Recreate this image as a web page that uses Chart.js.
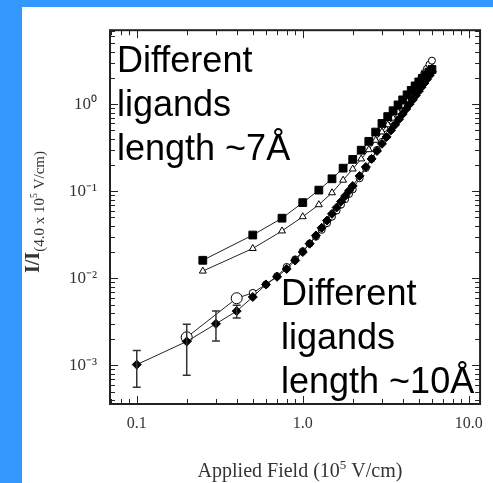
<!DOCTYPE html>
<html>
<head>
<meta charset="utf-8">
<script src="https://cdn.jsdelivr.net/npm/chart.js@4.4.1/dist/chart.umd.min.js"></script>
<style>
  html, body { margin: 0; padding: 0; background: #3399ff; width: 493px; height: 483px; overflow: hidden; }
  #panel { position: absolute; left: 22px; top: 7px; width: 471px; height: 476px; background: #fff; }
  canvas { display: block; }
</style>
</head>
<body>
<div id="panel"><canvas id="fieldChart" width="471" height="476"></canvas></div>
<script>
// I/I(4.0e5 V/cm) vs applied field, log-log

// ~7Å ligands: filled squares and open triangles
const squareX = [0.25, 0.5, 0.75, 1.0, 1.25, 1.5, 1.75, 2.0, 2.25, 2.5, 2.75, 3.0, 3.25, 3.5, 3.75, 4.0, 4.25, 4.5, 4.75, 5.0, 5.25, 5.5, 5.75, 6.0];
const squareY = [0.0161, 0.0314, 0.049, 0.074, 0.103, 0.139, 0.184, 0.232, 0.296, 0.374, 0.478, 0.60, 0.72, 0.84, 0.98, 1.12, 1.28, 1.44, 1.62, 1.80, 1.98, 2.15, 2.33, 2.5];
const triangleY = [0.0121, 0.022, 0.035, 0.051, 0.070, 0.096, 0.134, 0.18, 0.235, 0.30, 0.385, 0.48, 0.58, 0.69, 0.81, 0.95, 1.10, 1.26, 1.44, 1.63, 1.84, 2.06, 2.30, 2.6];

// ~10Å ligands: open circles and filled diamonds
const circleX = [0.2, 0.4, 0.5, 0.6, 0.7, 0.8, 0.9, 1.0, 1.1, 1.2, 1.3, 1.4, 1.5, 1.6, 1.7, 1.8, 1.9, 2.0, 2.2, 2.4, 2.6, 2.8, 3.0, 3.2, 3.4, 3.6, 3.8, 4.0, 4.2, 4.4, 4.6, 4.8, 5.0, 5.2, 5.4, 5.6, 5.8, 6.0];
const circleY = [0.0021, 0.0059, 0.0068, 0.0085, 0.0106, 0.0135, 0.0165, 0.0205, 0.025, 0.030, 0.036, 0.043, 0.051, 0.060, 0.070, 0.081, 0.093, 0.105, 0.141, 0.185, 0.236, 0.298, 0.369, 0.45, 0.544, 0.65, 0.767, 0.90, 1.04, 1.21, 1.39, 1.58, 1.80, 2.03, 2.28, 2.55, 2.85, 3.16];
const diamondX = [0.1, 0.2, 0.3, 0.4, 0.5, 0.6, 0.7, 0.8, 0.9, 1.0, 1.1, 1.2, 1.3, 1.4, 1.5, 1.6, 1.7, 1.8, 1.9, 2.0, 2.2, 2.4, 2.6, 2.8, 3.0, 3.2, 3.4, 3.6, 3.8, 4.0, 4.2, 4.4, 4.6, 4.8, 5.0, 5.2, 5.4, 5.6, 5.8, 6.0];
const diamondY = [0.00102, 0.00188, 0.0030, 0.0042, 0.0061, 0.0085, 0.0104, 0.0128, 0.016, 0.020, 0.025, 0.031, 0.038, 0.046, 0.055, 0.065, 0.076, 0.088, 0.101, 0.115, 0.15, 0.19, 0.235, 0.29, 0.35, 0.42, 0.50, 0.58, 0.67, 0.77, 0.88, 1.0, 1.12, 1.26, 1.41, 1.57, 1.74, 1.93, 2.13, 2.35];

// error bars on the first diamonds
const errX = [0.1, 0.2, 0.3, 0.4];
const errLow = [0.00056, 0.00077, 0.0019, 0.0035];
const errHigh = [0.00148, 0.00297, 0.0042, 0.0049];

const xLabels = [0.1, 1, 10];
const xLabelText = ['0.1', '1.0', '10.0'];
const yLabels = [0.001, 0.01, 0.1, 1];

const note7 = ['Different', 'ligands', 'length ~7Å'];
const note10 = ['Different', 'ligands', 'length ~10Å'];

const pts = (xs, ys) => xs.map((x, i) => ({ x, y: ys[i] }));
const sup = { '0': '⁰', '1': '¹', '2': '²', '3': '³', '-': '⁻' };
const serif = '"Liberation Serif", "Times New Roman", serif';

function logTicks(min, max) {
  const out = [];
  for (let e = Math.floor(Math.log10(min)); e <= Math.ceil(Math.log10(max)); e++) {
    for (let k = 1; k <= 9; k++) {
      const v = k * Math.pow(10, e);
      if (v >= min && v <= max) out.push({ v, major: k === 1 });
    }
  }
  return out;
}

const errorBars = {
  id: 'errorBars',
  afterDatasetsDraw(chart) {
    const { ctx, scales: { x, y } } = chart;
    ctx.save();
    ctx.strokeStyle = '#333';
    ctx.lineWidth = 1.5;
    errX.forEach((v, i) => {
      const px = x.getPixelForValue(v);
      const top = y.getPixelForValue(errHigh[i]);
      const bot = y.getPixelForValue(errLow[i]);
      ctx.beginPath();
      ctx.moveTo(px, top); ctx.lineTo(px, bot);
      ctx.moveTo(px - 4, top); ctx.lineTo(px + 4, top);
      ctx.moveTo(px - 4, bot); ctx.lineTo(px + 4, bot);
      ctx.stroke();
    });
    ctx.restore();
  },
};

function drawParts(ctx, parts, cx, baseline) {
  let w = 0;
  parts.forEach(([s, f]) => { ctx.font = f; w += ctx.measureText(s).width; });
  let x = cx - w / 2;
  ctx.textAlign = 'left';
  parts.forEach(([s, f, dy]) => {
    ctx.font = f;
    ctx.fillText(s, x, baseline + dy);
    x += ctx.measureText(s).width;
  });
}

const frame = {
  id: 'frame',
  afterDraw(chart) {
    const { ctx, chartArea: a, scales: { x, y } } = chart;
    ctx.save();
    ctx.strokeStyle = '#222';
    ctx.lineWidth = 1;
    ctx.beginPath();
    logTicks(x.min, x.max).forEach((t) => {
      const px = Math.round(x.getPixelForValue(t.v)) + 0.5;
      const len = t.major ? 8 : 5;
      ctx.moveTo(px, a.bottom); ctx.lineTo(px, a.bottom - len);
      ctx.moveTo(px, a.top); ctx.lineTo(px, a.top + len);
    });
    logTicks(y.min, y.max).forEach((t) => {
      const py = Math.round(y.getPixelForValue(t.v)) + 0.5;
      const len = t.major ? 8 : 5;
      ctx.moveTo(a.left, py); ctx.lineTo(a.left + len, py);
      ctx.moveTo(a.right, py); ctx.lineTo(a.right - len, py);
    });
    ctx.stroke();
    ctx.lineWidth = 2;
    ctx.strokeRect(a.left, a.top, a.right - a.left, a.bottom - a.top);

    // annotations
    ctx.fillStyle = '#000';
    ctx.font = '36px "Liberation Sans", Arial, sans-serif';
    ctx.textBaseline = 'alphabetic';
    note7.forEach((s, i) => ctx.fillText(s, 95, 65 + i * 44));
    note10.forEach((s, i) => ctx.fillText(s, 259, 298 + i * 44));

    // x title
    ctx.fillStyle = '#333';
    drawParts(ctx, [
      ['Applied Field (10', '20px ' + serif, 0],
      ['5', '13px ' + serif, -8],
      [' V/cm)', '20px ' + serif, 0],
    ], 278, 470);

    // y title, rotated
    ctx.save();
    ctx.translate(17, 205);
    ctx.rotate(-Math.PI / 2);
    drawParts(ctx, [
      ['I/I', 'bold 20px ' + serif, 0],
      ['(4.0 x 10', '15px ' + serif, 5],
      ['5', '10px ' + serif, -2],
      [' V/cm)', '15px ' + serif, 5],
    ], 0, 0);
    ctx.restore();
    ctx.restore();
  },
};

const ctx = document.getElementById('fieldChart');

new Chart(ctx, {
  type: 'scatter',
  data: {
    datasets: [
      {
        label: 'diamonds',
        data: pts(diamondX, diamondY),
        showLine: true,
        borderColor: '#222',
        borderWidth: 1,
        pointStyle: 'rectRot',
        pointRadius: 4.5,
        pointBackgroundColor: '#000',
        pointBorderColor: '#000',
      },
      {
        label: 'squares',
        data: pts(squareX, squareY),
        showLine: true,
        borderColor: '#222',
        borderWidth: 1,
        pointStyle: 'rect',
        pointRadius: 5.5,
        pointBackgroundColor: '#000',
        pointBorderColor: '#000',
      },
      {
        label: 'triangles',
        data: pts(squareX, triangleY),
        showLine: true,
        borderColor: '#222',
        borderWidth: 1,
        pointStyle: 'triangle',
        pointRadius: 4,
        pointBackgroundColor: '#fff',
        pointBorderColor: '#000',
        pointBorderWidth: 1,
      },
      {
        label: 'circles',
        data: pts(circleX, circleY),
        showLine: true,
        borderColor: '#222',
        borderWidth: 1,
        pointStyle: 'circle',
        pointRadius: (c) => (c.raw && c.raw.x < 0.45 ? 5.5 : 3.5),
        pointBackgroundColor: '#fff',
        pointBorderColor: '#000',
        pointBorderWidth: 1,
      },
    ],
  },
  options: {
    responsive: false,
    animation: false,
    layout: { padding: { top: 18, right: 8, left: 0, bottom: 0 } },
    plugins: { legend: { display: false }, tooltip: { enabled: false } },
    scales: {
      x: {
        type: 'logarithmic',
        min: 0.069,
        max: 11.7,
        grid: { display: false, drawTicks: false },
        border: { display: false },
        afterFit: (s) => { s.height = 79; },
        afterBuildTicks: (s) => { s.ticks = xLabels.map((v) => ({ value: v })); },
        ticks: {
          autoSkip: false,
          maxRotation: 0,
          padding: 10,
          color: '#333',
          font: { family: serif, size: 16 },
          callback: (v) => xLabelText[xLabels.indexOf(v)] ?? '',
        },
      },
      y: {
        type: 'logarithmic',
        min: 0.00036,
        max: 7.07,
        grid: { display: false, drawTicks: false },
        border: { display: false },
        afterFit: (s) => { s.width = 88; },
        afterBuildTicks: (s) => { s.ticks = yLabels.map((v) => ({ value: v })); },
        ticks: {
          autoSkip: false,
          padding: 13,
          color: '#333',
          font: { family: serif, size: 17 },
          callback: (v) => '10' + String(Math.round(Math.log10(v))).split('').map((c) => sup[c]).join(''),
        },
      },
    },
  },
  plugins: [errorBars, frame],
});
</script>
</body>
</html>
